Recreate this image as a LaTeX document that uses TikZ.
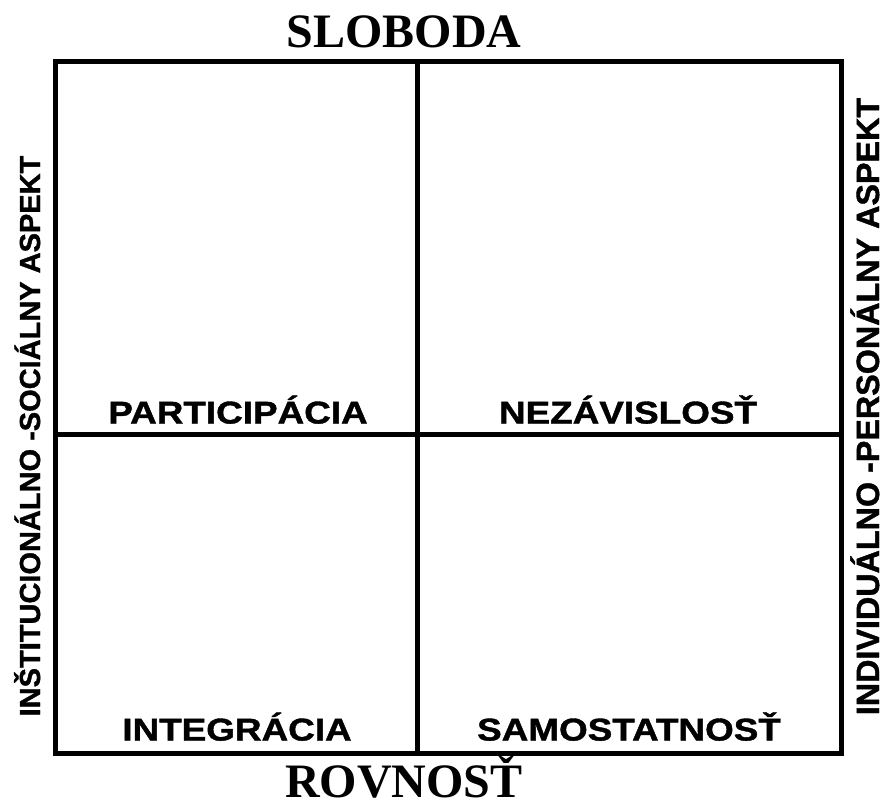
\documentclass[tikz,border=0pt]{standalone}
\usepackage{fontspec}
\setmainfont{Liberation Serif}
\newfontfamily\labfont[FakeBold=1.2]{Liberation Sans}
\begin{document}
\begin{tikzpicture}[x=1pt,y=-1pt,
  gridline/.style={line width=5pt,black},
  title/.style={inner sep=0pt,anchor=base,font=\fontsize{48}{50}\selectfont\bfseries},
  quad/.style={inner sep=0pt,anchor=base,font=\labfont\fontsize{31.5}{33}\selectfont\bfseries},
  side/.style={inner sep=0pt,anchor=base,rotate=90,font=\labfont\bfseries}]
\useasboundingbox (0,0) rectangle (885,803);
\coordinate (tl) at (55.5,61);
\coordinate (br) at (841,753.5);
\coordinate (tm) at (417.5,61);
\coordinate (bm) at (417.5,753.5);
\coordinate (lm) at (55.5,434);
\coordinate (rm) at (841,434);
\draw[gridline,line join=miter] (tl) rectangle (br);
\draw[gridline] (tm) -- (bm);
\draw[gridline] (lm) -- (rm);
\node[title] (sloboda) at (404,47) {SLOBODA};
\node[title] (rovnost) at (404,797) {ROVNOSŤ};
\node[quad] (part) at (238,423.5) {\scalebox{1.17}[1]{PARTICIPÁCIA}};
\node[quad] (nez) at (628,423.5) {\scalebox{1.17}[1]{NEZÁVISLOSŤ}};
\node[quad] (integ) at (237,740.5) {\scalebox{1.17}[1]{INTEGRÁCIA}};
\node[quad] (samo) at (629,740.5) {\scalebox{1.17}[1]{SAMOSTATNOSŤ}};
\node[side,font=\labfont\fontsize{29}{31}\selectfont\bfseries] (left) at (40,436) {INŠTITUCIONÁLNO -SOCIÁLNY ASPEKT};
\node[side,font=\labfont\fontsize{32.3}{34}\selectfont\bfseries] (right) at (879,406.5) {INDIVIDUÁLNO -PERSONÁLNY ASPEKT};
\end{tikzpicture}
\end{document}
